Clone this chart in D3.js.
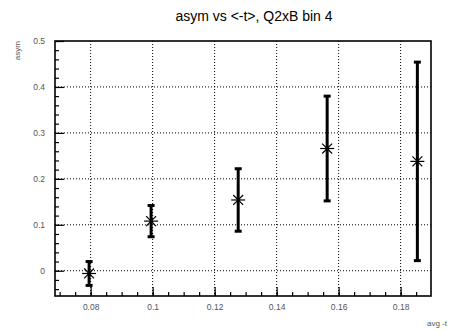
<!DOCTYPE html>
<html>
<head>
<meta charset="utf-8">
<script src="https://cdn.jsdelivr.net/npm/d3@7"></script>
<style>
  body { margin: 0; background: #fff; }
  svg { display: block; }
  text { font-family: "Liberation Sans", Arial, sans-serif; }
</style>
</head>
<body>
<div id="chart"></div>
<script>
// values
const avgT = [0.0795, 0.0995, 0.1276, 0.1563, 0.1854];
const asym = [-0.006, 0.108, 0.154, 0.266, 0.238];
const asymErr = [0.026, 0.034, 0.068, 0.114, 0.216];
const xTicks = [0.08, 0.1, 0.12, 0.14, 0.16, 0.18];
const yTicks = [0, 0.1, 0.2, 0.3, 0.4, 0.5];

const W = 452, H = 332;
const margin = {top: 41, right: 21, bottom: 36, left: 55};
const width = W - margin.left - margin.right;
const height = H - margin.top - margin.bottom;

const svg = d3.select('#chart').append('svg')
  .attr('width', W)
  .attr('height', H);

svg.append('rect').attr('width', W).attr('height', H).attr('fill', '#fff');

const g = svg.append('g')
  .attr('transform', 'translate(' + margin.left + ',' + margin.top + ')');

const x = d3.scaleLinear().domain([0.0685, 0.1898]).range([0, width]);
const y = d3.scaleLinear().domain([-0.055, 0.5]).range([height, 0]);

// dotted grid
g.selectAll('.gx').data(xTicks).enter().append('line')
  .attr('x1', d => x(d)).attr('x2', d => x(d))
  .attr('y1', 0).attr('y2', height)
  .attr('stroke', '#000').attr('stroke-width', 1)
  .attr('stroke-dasharray', '1,2');
g.selectAll('.gy').data(yTicks.filter(d => d < 0.5)).enter().append('line')
  .attr('x1', 0).attr('x2', width)
  .attr('y1', d => y(d)).attr('y2', d => y(d))
  .attr('stroke', '#000').attr('stroke-width', 1)
  .attr('stroke-dasharray', '1,2');

// axes with ROOT-style inward ticks
const xMinor = d3.range(0.07, 0.1891, 0.005).map(v => +v.toFixed(3));
const yMinor = d3.range(-0.04, 0.501, 0.02).map(v => +v.toFixed(3));

const xAxis = g.append('g').attr('transform', 'translate(0,' + height + ')');
xAxis.call(d3.axisBottom(x).tickValues(xMinor).tickSize(-4).tickFormat(''));
const xMajor = g.append('g').attr('transform', 'translate(0,' + height + ')')
  .call(d3.axisBottom(x).tickValues(xTicks).tickSize(-9).tickPadding(5)
    .tickFormat(d3.format('~g')));

const yAxis = g.append('g');
yAxis.call(d3.axisLeft(y).tickValues(yMinor).tickSize(-4).tickFormat(''));
const yMajor = g.append('g')
  .call(d3.axisLeft(y).tickValues(yTicks).tickSize(-9).tickPadding(12)
    .tickFormat(d3.format('~g')));

[xAxis, xMajor, yAxis, yMajor].forEach(a => {
  a.select('.domain').remove();
  a.selectAll('line').attr('stroke', '#000').attr('stroke-width', 1.2);
  a.selectAll('text').attr('font-size', 8.5).attr('fill', '#555');
});
xMajor.selectAll('line').attr('y2', -9);
xMajor.selectAll('text').attr('y', 8);
yMajor.selectAll('line').attr('x2', 9);
yMajor.selectAll('text').attr('x', -10);

// frame
g.append('rect')
  .attr('width', width).attr('height', height)
  .attr('fill', 'none').attr('stroke', '#000').attr('stroke-width', 1.6);

// error bars
const pts = avgT.map((t, i) => ({t: t, v: asym[i], e: asymErr[i]}));
const bars = g.selectAll('.bar').data(pts).enter().append('g');
bars.append('line')
  .attr('x1', d => x(d.t)).attr('x2', d => x(d.t))
  .attr('y1', d => y(d.v + d.e)).attr('y2', d => y(d.v - d.e))
  .attr('stroke', '#000').attr('stroke-width', 3);
[1, -1].forEach(s => {
  bars.append('line')
    .attr('x1', d => x(d.t) - 3.5).attr('x2', d => x(d.t) + 3.5)
    .attr('y1', d => y(d.v + s * d.e)).attr('y2', d => y(d.v + s * d.e))
    .attr('stroke', '#000').attr('stroke-width', 3);
});

// asterisk markers
const star = d3.range(4).map(k => k * Math.PI / 4);
bars.each(function(d) {
  const cx = x(d.t), cy = y(d.v);
  const m = d3.select(this);
  star.forEach(a => {
    m.append('line')
      .attr('x1', cx - 7 * Math.cos(a)).attr('x2', cx + 7 * Math.cos(a))
      .attr('y1', cy - 7 * Math.sin(a)).attr('y2', cy + 7 * Math.sin(a))
      .attr('stroke', '#000').attr('stroke-width', 1.2);
  });
});

// titles
svg.append('text')
  .attr('x', 254).attr('y', 21)
  .attr('text-anchor', 'middle').attr('font-size', 14).attr('fill', '#000')
  .text('asym vs <-t>, Q2xB bin 4');

svg.append('text')
  .attr('transform', 'translate(20,' + margin.top + ') rotate(-90)')
  .attr('text-anchor', 'end').attr('font-size', 8).attr('fill', '#555')
  .text('asym');

svg.append('text')
  .attr('x', W - 5).attr('y', H - 6)
  .attr('text-anchor', 'end').attr('font-size', 8).attr('fill', '#555')
  .text('avg -t');
</script>
</body>
</html>
